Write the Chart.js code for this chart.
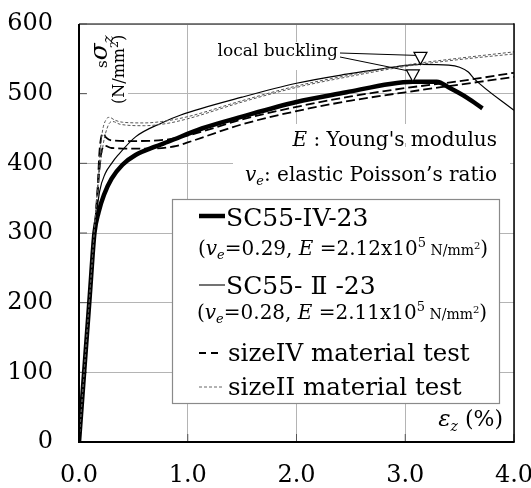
<!DOCTYPE html>
<html>
<head>
<meta charset="utf-8">
<script src="https://cdn.jsdelivr.net/npm/chart.js@4.4.0/dist/chart.umd.min.js"></script>
<style>
html, body { margin: 0; padding: 0; background: #fff; }
</style>
</head>
<body>
<canvas id="myChart" width="531" height="488"></canvas>
<script>
// stress-strain curves, strain in %, stress in N/mm2
var strainIV23 = [0, 0.05, 0.10, 0.142, 0.18, 0.23, 0.30, 0.40, 0.52, 0.70, 0.82, 1.13, 1.5, 2.0, 2.46, 2.86, 3.07, 3.29, 3.41, 3.57, 3.71];
var stressIV23 = [0, 106, 212, 300, 330, 355, 378, 398, 412, 424, 431, 450, 467, 488, 502, 514, 517, 517, 508, 494, 479];

var strainII23 = [0, 0.05, 0.10, 0.15, 0.19, 0.24, 0.30, 0.36, 0.52, 0.76, 0.93, 1.5, 2.0, 2.46, 2.8, 3.14, 3.4, 3.5, 3.58, 3.63, 4.0];
var stressII23 = [0, 105, 211, 310, 360, 385, 400, 412, 438, 458, 469, 495, 515, 528, 536, 542, 541, 538, 531, 522, 476];

var strainIVtestA = [0, 0.1, 0.17, 0.19, 0.22, 0.25, 0.3, 0.5, 0.8, 1.0, 1.5, 2.0, 2.5, 3.0, 3.5, 4.0];
var stressIVtestA = [0, 215, 362, 420, 443, 437, 433, 432, 434, 440, 463, 481, 496, 508, 518, 530];
var strainIVtestB = [0, 0.1, 0.17, 0.2, 0.24, 0.3, 0.6, 0.9, 1.0, 1.5, 2.0, 2.5, 3.0, 3.5, 4.0];
var stressIVtestB = [0, 210, 355, 410, 425, 422, 421, 425, 430, 456, 475, 490, 502, 513, 524];

var strainIItestA = [0, 0.1, 0.17, 0.21, 0.25, 0.28, 0.33, 0.4, 0.6, 0.76, 1.0, 1.5, 2.0, 2.5, 3.0, 3.5, 4.0];
var stressIItestA = [0, 215, 365, 440, 463, 466, 462, 459, 458, 460, 467, 490, 511, 527, 541, 551, 560];
var strainIItestB = [0, 0.1, 0.17, 0.22, 0.27, 0.31, 0.38, 0.6, 0.8, 1.0, 1.5, 2.0, 2.5, 3.0, 3.5, 4.0];
var stressIItestB = [0, 212, 360, 425, 455, 460, 456, 454, 457, 464, 488, 509, 525, 539, 549, 557];

// local buckling points (upper: SC55-II-23, lower: SC55-IV-23)
var bucklingStrain = [3.14, 3.07];
var bucklingStress = [542, 517];

var xTickLabels = ['0.0', '1.0', '2.0', '3.0', '4.0'];
var seriesNames = ['SC55-IV-23', 'SC55- \u2161 -23', 'sizeIV material test', 'sizeII material test'];

var SERIF = "'DejaVu Serif', 'Noto Sans CJK JP', serif";

function toPoints(xs, ys)
{
	var pts = [];
	for( var i=0; i<xs.length; i++ )
		pts.push({ x: xs[i], y: ys[i] });
	return pts;
}

function setFont(ctx, size, italic)
{
	ctx.font = (italic ? 'italic ' : '') + size + 'px ' + SERIF;
}

// segs: [text, size, italic, dy]
function drawRich(ctx, x, y, segs, align)
{
	var w = 0;
	segs.forEach(function(s){ setFont(ctx, s[1], s[2]); w += ctx.measureText(s[0]).width; });
	var cx = (align == 'right') ? x - w : x;
	ctx.textAlign = 'left';
	ctx.textBaseline = 'alphabetic';
	segs.forEach(function(s){
		setFont(ctx, s[1], s[2]);
		ctx.fillText(s[0], cx, y + (s[3] || 0));
		cx += ctx.measureText(s[0]).width;
	});
}

function line(ctx, x1, y1, x2, y2, width, color, dash)
{
	ctx.save();
	ctx.beginPath();
	ctx.lineWidth = width;
	ctx.strokeStyle = color;
	ctx.setLineDash(dash || []);
	ctx.moveTo(x1, y1);
	ctx.lineTo(x2, y2);
	ctx.stroke();
	ctx.restore();
}

var decorPlugin = {
	id: 'decor',
	beforeDatasetsDraw: function(chart)
	{
		var ctx = chart.ctx;
		var a = chart.chartArea;
		ctx.save();
		ctx.fillStyle = '#fff';
		ctx.fillRect(86, 25, 42, 80);     // y title
		ctx.fillRect(210, 42, 132, 28);   // local buckling
		ctx.fillRect(233, 124, 277, 19);  // E : Young's modulus
		ctx.fillRect(233, 147, 277, 52);  // ve : ...
		// legend box
		ctx.fillRect(172.5, 199.5, 327, 204);
		ctx.strokeStyle = '#8a8a8a';
		ctx.lineWidth = 1.2;
		ctx.strokeRect(172.5, 199.5, 327, 204);
		// short inward ticks
		chart.scales.y.ticks.forEach(function(t){
			var py = chart.scales.y.getPixelForValue(t.value);
			line(ctx, a.left, py, a.left + 8, py, 1, '#555');
		});
		chart.scales.x.ticks.forEach(function(t){
			var px = chart.scales.x.getPixelForValue(t.value);
			line(ctx, px, a.bottom, px, a.bottom - 8, 1, '#555');
		});
		ctx.restore();
	},
	afterDatasetsDraw: function(chart)
	{
		var ctx = chart.ctx;
		var a = chart.chartArea;
		var xs = chart.scales.x, ys = chart.scales.y;
		ctx.save();
		ctx.fillStyle = '#000';

		// frame
		line(ctx, a.left, a.top, a.right, a.top, 1.5, '#555');
		line(ctx, a.right, a.top - 0.7, a.right, a.bottom, 1.5, '#000');
		line(ctx, a.left, a.top, a.left, a.bottom + 1, 2, '#000');
		line(ctx, a.left - 1, a.bottom, a.right + 0.7, a.bottom, 2, '#000');

		// y axis title (rotated)
		ctx.save();
		ctx.translate(107, 68);
		ctx.rotate(-Math.PI / 2);
		drawRich(ctx, 0, 0, [['s', 15, false, 0], ['\u03c3', 25, true, 0], ['z', 15, true, 6]]);
		ctx.restore();
		ctx.save();
		ctx.translate(124, 104);
		ctx.rotate(-Math.PI / 2);
		drawRich(ctx, 0, 0, [['(N/mm', 16, false, 0], ['2', 11, false, -6], [')', 16, false, 0]]);
		ctx.restore();

		// x axis title
		drawRich(ctx, 503, 426, [['\u03b5', 23, true, 0], ['z', 14, true, 5], [' (%)', 22, false, 0]], 'right');

		// notes
		drawRich(ctx, 497, 146, [['E', 20, true, 0], [' : ', 20, false, 0], ["Young's modulus", 20, false, 0]], 'right');
		drawRich(ctx, 497, 181, [['v', 20, true, 0], ['e', 13, true, 4], [': elastic Poisson\u2019s ratio', 20, false, 0]], 'right');

		// local buckling marks
		drawRich(ctx, 338, 56, [['local buckling', 17, false, 0]], 'right');
		var tips = [];
		for( var i=0; i<bucklingStrain.length; i++ )
			tips.push([ xs.getPixelForValue(bucklingStrain[i]), ys.getPixelForValue(bucklingStress[i]) ]);
		line(ctx, 340, 53, tips[0][0] - 4, tips[0][1] - 9, 1, '#000');
		line(ctx, 340, 57, tips[1][0] - 5, tips[1][1] - 11, 1, '#000');
		tips.forEach(function(t){
			ctx.beginPath();
			ctx.moveTo(t[0], t[1]);
			ctx.lineTo(t[0] - 6.5, t[1] - 12);
			ctx.lineTo(t[0] + 6.5, t[1] - 12);
			ctx.closePath();
			ctx.fillStyle = '#fff';
			ctx.fill();
			ctx.lineWidth = 1.2;
			ctx.strokeStyle = '#000';
			ctx.stroke();
		});
		ctx.fillStyle = '#000';

		// legend
		line(ctx, 199, 216, 225, 216, 4.5, '#000');
		drawRich(ctx, 226, 226, [[seriesNames[0], 25, false, 0]]);
		drawRich(ctx, 198, 255, [['(', 20, false, 0], ['v', 20, true, 0], ['e', 13, true, 4], ['=0.29, ', 20, false, 0], ['E', 20, true, 0],
			[' =2.12x10', 20, false, 0], ['5', 13, false, -8], [' N/mm', 14, false, 0], ['2', 10, false, -6], [')', 20, false, 0]]);
		line(ctx, 199, 285, 225, 285, 1.1, '#000');
		drawRich(ctx, 226, 294, [[seriesNames[1], 25, false, 0]]);
		drawRich(ctx, 197, 319, [['(', 20, false, 0], ['v', 20, true, 0], ['e', 13, true, 4], ['=0.28, ', 20, false, 0], ['E', 20, true, 0],
			[' =2.11x10', 20, false, 0], ['5', 13, false, -8], [' N/mm', 14, false, 0], ['2', 10, false, -6], [')', 20, false, 0]]);
		line(ctx, 199, 353, 221, 353, 1.8, '#000', [7, 5]);
		drawRich(ctx, 228, 361, [[seriesNames[2], 24.5, false, 0]]);
		line(ctx, 199, 387, 224, 387, 1, '#666', [3, 2]);
		drawRich(ctx, 228, 395, [[seriesNames[3], 24.5, false, 0]]);

		ctx.restore();
	}
};

var datasets = [
	{ label: seriesNames[3], data: toPoints(strainIItestA, stressIItestA), borderColor: '#555', borderWidth: 1, borderDash: [3, 2] },
	{ label: seriesNames[3], data: toPoints(strainIItestB, stressIItestB), borderColor: '#555', borderWidth: 1, borderDash: [3, 2] },
	{ label: seriesNames[2], data: toPoints(strainIVtestA, stressIVtestA), borderColor: '#000', borderWidth: 1.8, borderDash: [9, 4] },
	{ label: seriesNames[2], data: toPoints(strainIVtestB, stressIVtestB), borderColor: '#000', borderWidth: 1.8, borderDash: [9, 4] },
	{ label: seriesNames[1], data: toPoints(strainII23, stressII23), borderColor: '#000', borderWidth: 1.2 },
	{ label: seriesNames[0], data: toPoints(strainIV23, stressIV23), borderColor: '#000', borderWidth: 4.5 }
];

var tickFont = { family: SERIF, size: 24 };

var ctx = document.getElementById('myChart');
var myChart = new Chart(ctx, {
	type: 'line',
	data: { datasets: datasets },
	options: {
		responsive: false,
		animation: false,
		layout: { padding: { top: 24, right: 17, left: 0, bottom: 0 } },
		elements: {
			point: { radius: 0 },
			line: { cubicInterpolationMode: 'monotone', fill: false }
		},
		plugins: {
			legend: { display: false },
			tooltip: { enabled: false }
		},
		scales: {
			x: {
				type: 'linear', min: 0, max: 4,
				ticks: {
					stepSize: 1, padding: 19, color: '#000', font: tickFont, maxRotation: 0,
					callback: function(v, i){ return xTickLabels[i]; }
				},
				grid: { color: '#b4b4b4', lineWidth: 1, drawTicks: false },
				border: { display: false },
				afterFit: function(s){ s.height = 46; s.paddingLeft = 0; s.paddingRight = 0; }
			},
			y: {
				type: 'linear', min: 0, max: 600,
				ticks: { stepSize: 100, padding: 26, color: '#000', font: tickFont },
				grid: { color: '#b4b4b4', lineWidth: 1, drawTicks: false },
				border: { display: false },
				afterFit: function(s){ s.width = 79; s.paddingTop = 0; s.paddingBottom = 0; }
			}
		}
	},
	plugins: [decorPlugin]
});
</script>
</body>
</html>
